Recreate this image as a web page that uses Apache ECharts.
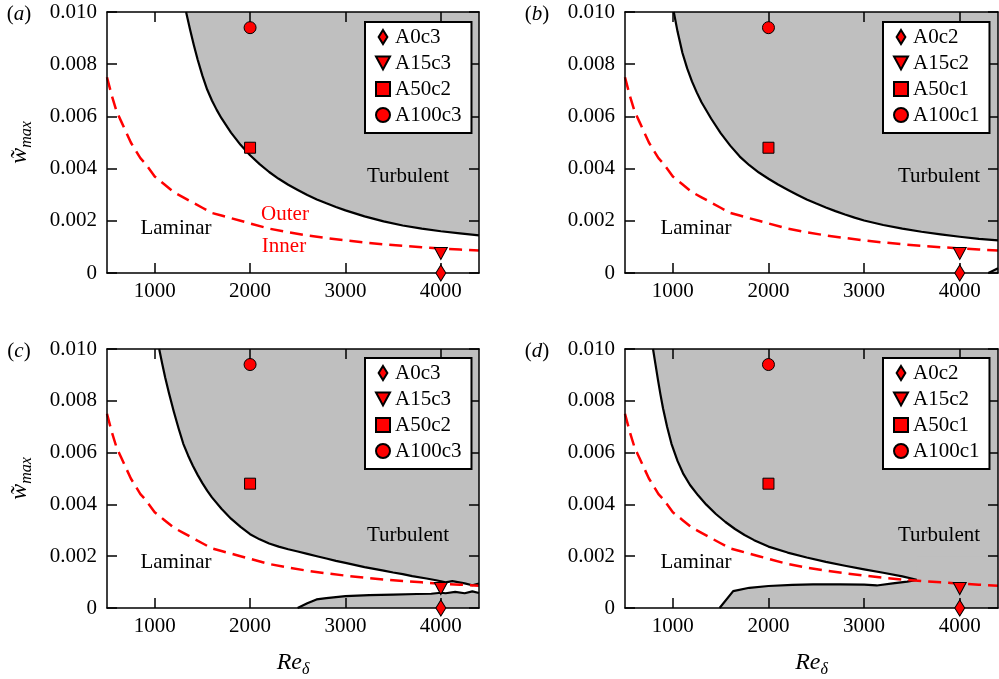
<!DOCTYPE html>
<html><head><meta charset="utf-8">
<script src="https://cdn.jsdelivr.net/npm/echarts@6/dist/echarts.min.js"></script>
<style>html,body{margin:0;padding:0;background:#fff}#c{width:999px;height:679px}</style>
</head><body><div id="c"></div>
<script>
// ---------- data ----------
const xTicks = [1000, 2000, 3000, 4000];
const yTicks = [0, 0.002, 0.004, 0.006, 0.008, 0.010];

// red dashed outer/inner boundary (same in all panels)
const reDash = [500,550,600,650,700,750,800,850,900,1000,1100,1200,1300,1400,1500,1600,1700,1800,1900,2000,2200,2400,2600,2800,3000,3200,3400,3600,3800,4000,4200,4400];
const wDash  = [0.0075,0.0068,0.0062,0.0058,0.0054,0.0050,0.0047,0.0044,0.0042,0.0037,0.0034,0.0031,0.0029,0.0027,0.0025,0.0023,0.0022,0.0021,0.0020,0.0019,0.0017,0.00156,0.00144,0.00134,0.00125,0.00117,0.0011,0.00104,0.00099,0.00094,0.0009,0.00086];

// panel (a) upper turbulent boundary
const reA = [1329,1370,1410,1450,1500,1550,1600,1650,1700,1800,1900,2000,2100,2200,2300,2400,2500,2600,2700,2800,2900,3000,3200,3400,3600,3800,4000,4200,4400];
const wA  = [0.0100,0.00934,0.00874,0.00818,0.00756,0.00703,0.00661,0.00625,0.00593,0.00538,0.00491,0.00451,0.00417,0.00387,0.00361,0.00338,0.00318,0.00299,0.00282,0.00267,0.00253,0.0024,0.00217,0.00198,0.00182,0.0017,0.0016,0.00152,0.00144];

// panel (b)
const reB = [1010,1050,1100,1150,1200,1250,1300,1400,1500,1600,1700,1800,1900,2000,2100,2200,2300,2400,2500,2600,2700,2800,2900,3000,3200,3400,3600,3800,4000,4200,4400];
const wB  = [0.0100,0.00924,0.00844,0.00784,0.00734,0.00692,0.00654,0.00592,0.00536,0.00488,0.00446,0.00413,0.00385,0.00361,0.00339,0.00319,0.0030,0.00282,0.00266,0.00251,0.00237,0.00224,0.00212,0.00201,0.00184,0.0017,0.00158,0.00148,0.00139,0.00131,0.00125];
const reBlow = [4300, 4400];
const wBlow  = [0, 0.00018];

// panel (c)
const reC = [1047,1080,1110,1150,1200,1250,1300,1350,1400,1450,1500,1550,1600,1700,1800,1900,2000,2100,2200,2300,2400,2500,2600,2700,2800,2900,3000,3200,3400,3500,3600,3610,3700,3720,3850,3860,3950,3960,4050,4060,4120,4130,4250,4260,4330,4340,4400];
const wC  = [0.0100,0.00941,0.0089,0.00829,0.00759,0.00694,0.00634,0.00589,0.00549,0.00514,0.00482,0.00453,0.00427,0.00383,0.00345,0.00313,0.00285,0.00265,0.00249,0.00237,0.00227,0.00218,0.00209,0.0020,0.00191,0.00182,0.00174,0.00158,0.00144,0.00137,0.00131,0.00126,0.00123,0.00118,0.00114,0.0011,0.00107,0.00101,0.00099,0.00106,0.00104,0.00097,0.00095,0.00089,0.00088,0.00095,0.00094];
const reClow = [2498,2600,2697,2800,3000,3250,3500,3750,3900,3910,4000,4050,4060,4150,4160,4250,4260,4330,4340,4400];
const wClow  = [0,0.00018,0.00033,0.00038,0.00046,0.0005,0.00052,0.00054,0.00055,0.00059,0.00059,0.00057,0.00063,0.00062,0.00057,0.00057,0.00064,0.00064,0.00058,0.00058];

// panel (d)
const reD = [793,820,846,870,898,940,986,1050,1107,1180,1264,1350,1450,1550,1650,1750,1850,2000,2200,2400,2600,2800,3000,3200,3400,3550];
const wD  = [0.0100,0.00938,0.00878,0.00826,0.0077,0.0070,0.00634,0.00567,0.0052,0.00475,0.00435,0.00399,0.00363,0.00332,0.00305,0.00282,0.00262,0.00237,0.00214,0.00195,0.00178,0.00163,0.00149,0.00136,0.00122,0.00109];
const reDtail = [3600, 3800, 4000, 4200, 4400];
const wDtail  = [0.00104, 0.00099, 0.00094, 0.0009, 0.00086];
const reDlow = [1489,1631,1800,2000,2250,2466,2750,3000,3132,3300,3450,3550];
const wDlow  = [0,0.00065,0.00078,0.00085,0.00089,0.00091,0.00091,0.0009,0.00087,0.00095,0.00102,0.00108];

// simulation markers
const namesAC = ['A0c3','A15c3','A50c2','A100c3'];
const namesBD = ['A0c2','A15c2','A50c1','A100c1'];
const markerRe = [4000, 4000, 2000, 2000];
const markerW  = [0, 0.00075, 0.0048, 0.0094];

// ---------- chart ----------
const FONT = 'Liberation Serif';
const zip = (xs, ys) => xs.map((x, i) => [x, ys[i]]);
const symbols = ['path://M5,0L10,8L5,16L0,8Z', 'path://M0,0L12,0L6,11Z', 'rect', 'circle'];
const symSizes = [[10,16], [13,12], 11, 12];

const grids = [
  {left:107, top:12, width:372, height:261},
  {left:625, top:12, width:373, height:261},
  {left:107, top:349, width:372, height:260},
  {left:625, top:349, width:373, height:260}
];

const lineBlack = {color:'#000', width:1.5};
const xAxes = [], yAxes = [];
grids.forEach((g, i) => {
  const showX = i >= 2, showY = (i % 2) === 0;
  xAxes.push({
    gridIndex:i, type:'value', min:500, max:4400, position:'bottom', z:6,
    axisLine:{show:true, onZero:false, lineStyle:lineBlack},
    axisTick:{show:true, inside:true, length:10, customValues:xTicks, lineStyle:lineBlack},
    axisLabel:{show:true, customValues:xTicks, margin:8, fontFamily:FONT, fontSize:21, color:'#000',
      formatter: v => String(v)},
    splitLine:{show:false},
    name: showX ? '{i|Re}{s|δ}' : '', nameLocation:'middle', nameGap:40,
    nameTextStyle:{rich:{
      i:{fontFamily:FONT, fontStyle:'italic', fontSize:24, color:'#000', lineHeight:30, verticalAlign:'middle'},
      s:{fontFamily:FONT, fontStyle:'italic', fontSize:16, color:'#000', lineHeight:16, verticalAlign:'bottom'}
    }}
  });
  xAxes.push({
    gridIndex:i, type:'value', min:500, max:4400, position:'top', z:6,
    axisLine:{show:true, onZero:false, lineStyle:lineBlack},
    axisTick:{show:true, inside:true, length:10, customValues:xTicks, lineStyle:lineBlack},
    axisLabel:{show:false}, splitLine:{show:false}
  });
  yAxes.push({
    gridIndex:i, type:'value', min:0, max:0.01, interval:0.002, position:'left', z:6,
    axisLine:{show:true, onZero:false, lineStyle:lineBlack},
    axisTick:{show:true, inside:true, length:10, lineStyle:lineBlack},
    axisLabel:{show:true, margin:10, fontFamily:FONT, fontSize:21, color:'#000',
      formatter: v => v === 0 ? '0' : v.toFixed(3)},
    splitLine:{show:false},
    name: showY ? '{w|w\u0303}{s|max}' : '', nameLocation:'middle', nameGap:72, nameRotate:90,
    nameTextStyle:{rich:{
      w:{fontFamily:FONT, fontStyle:'italic', fontSize:24, color:'#000', lineHeight:30, verticalAlign:'middle'},
      s:{fontFamily:FONT, fontStyle:'italic', fontSize:16, color:'#000', lineHeight:16, verticalAlign:'bottom'}
    }}
  });
  yAxes.push({
    gridIndex:i, type:'value', min:0, max:0.01, interval:0.002, position:'right', z:6,
    axisLine:{show:true, onZero:false, lineStyle:lineBlack},
    axisTick:{show:true, inside:true, length:10, lineStyle:lineBlack},
    axisLabel:{show:false}, splitLine:{show:false}
  });
});

const GRAY = '#bfbfbf';
const series = [];
function fill(i, data, origin) {
  series.push({type:'line', xAxisIndex:2*i, yAxisIndex:2*i, data, symbol:'none', smooth:false,
    lineStyle:{width:0, opacity:0}, areaStyle:{color:GRAY, opacity:1, origin}, z:1, silent:true, animation:false});
}
function bline(i, data) {
  series.push({type:'line', xAxisIndex:2*i, yAxisIndex:2*i, data, symbol:'none', smooth:false,
    lineStyle:{color:'#000', width:2.2, join:'round'}, z:3, silent:true, animation:false});
}
function dash(i) {
  series.push({type:'line', xAxisIndex:2*i, yAxisIndex:2*i, data:zip(reDash, wDash), symbol:'none', smooth:false,
    lineStyle:{color:'#ff0000', width:2.5, type:[13,7]}, z:4, silent:true, animation:false});
}
function markers(i, names) {
  names.forEach((n, k) => {
    series.push({type:'scatter', name:n, xAxisIndex:2*i, yAxisIndex:2*i, data:[[markerRe[k], markerW[k]]],
      symbol:symbols[k], symbolSize:symSizes[k],
      itemStyle:{color:'#ff0000', borderColor:'#000', borderWidth:1, opacity:1}, z:10, animation:false});
  });
}

// (a)
fill(0, zip(reA, wA), 'end'); bline(0, zip(reA, wA)); dash(0); markers(0, namesAC);
// (b)
fill(1, zip(reB, wB), 'end'); bline(1, zip(reB, wB));
fill(1, zip(reBlow, wBlow), 'start'); bline(1, zip(reBlow, wBlow));
dash(1); markers(1, namesBD);
// (c)
fill(2, zip(reC, wC), 'end'); bline(2, zip(reC, wC));
fill(2, zip(reClow, wClow), 'start'); bline(2, zip(reClow, wClow));
dash(2); markers(2, namesAC);
// (d)
fill(3, zip(reD.concat(reDtail), wD.concat(wDtail)), 'end'); bline(3, zip(reD, wD));
fill(3, zip(reDlow.concat([3551, 4400]), wDlow.concat([0.002, 0.002])), 'start');
bline(3, zip(reDlow, wDlow));
dash(3); markers(3, namesBD);

function legendFor(names, left, top) {
  return {show:true, orient:'vertical', left, top, data:names, backgroundColor:'#fff',
    borderColor:'#000', borderWidth:2, borderRadius:0, padding:[4,10,7,10], itemGap:4,
    itemWidth:14, itemHeight:14, selectedMode:false, z:12,
    textStyle:{fontFamily:FONT, fontSize:21, color:'#000', lineHeight:22}};
}

function txt(x, y, text, color) {
  return {type:'text', z:20, style:{x, y, text, fill:color || '#000',
    font:'21px "Liberation Serif"', align:'center', verticalAlign:'middle'}};
}
function panelLabel(x, y, letter) {
  return {type:'text', z:20, style:{x, y, text:'({i|' + letter + '})', fill:'#000',
    font:'21px "Liberation Serif"', align:'center', verticalAlign:'middle',
    rich:{i:{fontFamily:FONT, fontStyle:'italic', fontSize:21}}}};
}

const option = {
  animation:false,
  backgroundColor:'#fff',
  grid: grids.map(g => Object.assign({containLabel:false}, g)),
  xAxis: xAxes, yAxis: yAxes, series,
  legend: [legendFor(namesAC, 365, 22), legendFor(namesBD, 883, 22), legendFor(namesAC, 365, 358), legendFor(namesBD, 883, 358)],
  graphic: [
    panelLabel(19, 14, 'a'), panelLabel(537, 14, 'b'), panelLabel(19, 351, 'c'), panelLabel(537, 351, 'd'),
    txt(408, 176, 'Turbulent'), txt(939, 176, 'Turbulent'), txt(408, 535, 'Turbulent'), txt(939, 535, 'Turbulent'),
    txt(176, 228, 'Laminar'), txt(696, 228, 'Laminar'), txt(176, 562, 'Laminar'), txt(696, 562, 'Laminar'),
    txt(285, 214, 'Outer', '#ff0000'), txt(284, 246, 'Inner', '#ff0000')
  ]
};

const chart = echarts.init(document.getElementById('c'), null, {renderer:'canvas'});
chart.setOption(option);
</script>
</body></html>
